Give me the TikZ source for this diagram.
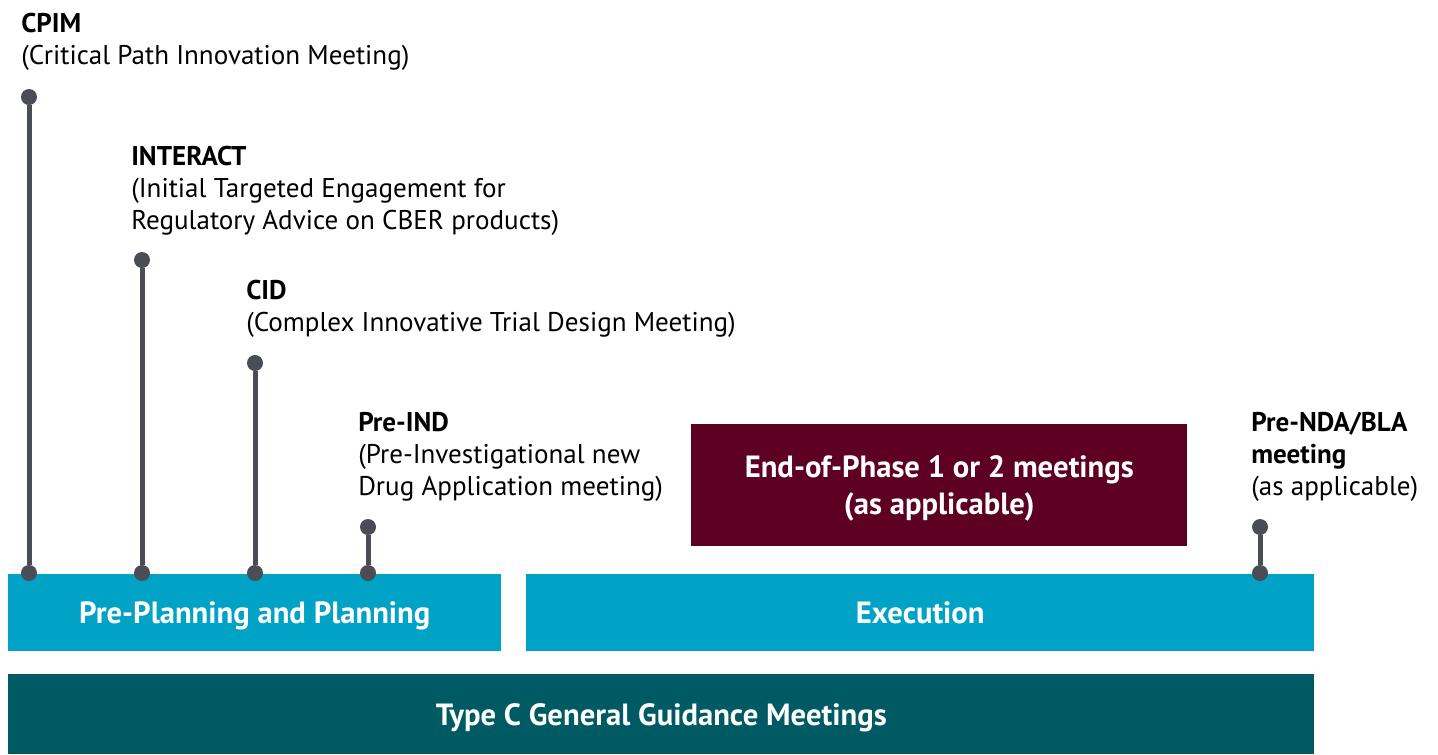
\documentclass[tikz,border=0pt]{standalone}
\usepackage{fontspec}
\setmainfont{PT Sans}
\definecolor{cyanbar}{RGB}{0,163,198}
\definecolor{tealbar}{RGB}{0,90,100}
\definecolor{maroonbox}{RGB}{94,0,34}
\definecolor{pingrey}{RGB}{74,77,85}
\tikzset{
  pindot/.style={circle,fill=pingrey,inner sep=0pt,minimum size=12pt},
  pinline/.style={draw=pingrey,line width=3.75pt},
  label/.style={anchor=north west,inner sep=0pt,align=left,font=\fontsize{20.3}{24}\selectfont},
  phase/.style={anchor=north west,inner sep=0pt,text=white,text height=1.65em,text depth=0pt,font=\fontsize{23}{28}\selectfont\bfseries}
}
\begin{document}
\begin{tikzpicture}[x=0.75pt,y=0.75pt,yscale=-1,xscale=1]
\useasboundingbox (0,0) rectangle (1438,754);
%Bars
\node [phase,fill=cyanbar,minimum width=369.75pt,minimum height=57.75pt] (planning) at (8,574) {Pre-Planning and Planning};
\node [phase,fill=cyanbar,minimum width=591pt,minimum height=57.75pt] (execution) at (526,574) {Execution};
\node [phase,fill=tealbar,minimum width=979.5pt,minimum height=60pt] (typec) at (8,674) {Type C General Guidance Meetings};
\node [phase,fill=maroonbox,minimum width=372pt,minimum height=91.5pt,align=center,text height=,text depth=-2pt] (eop) at (691,424) {End-of-Phase 1 or 2 meetings\\(as applicable)};

%Pins
\node [pindot] (cpimtop) at (29,97) {};
\node [pindot] (cpimbot) at (29,573) {};
\node [pindot] (interacttop) at (142,260) {};
\node [pindot] (interactbot) at (142,573) {};
\node [pindot] (cidtop) at (255,363) {};
\node [pindot] (cidbot) at (255,573) {};
\node [pindot] (preindtop) at (368,527) {};
\node [pindot] (preindbot) at (368,573) {};
\node [pindot] (prendatop) at (1260,527) {};
\node [pindot] (prendabot) at (1260,573) {};
\draw [pinline] (cpimtop) -- (cpimbot);
\draw [pinline] (interacttop) -- (interactbot);
\draw [pinline] (cidtop) -- (cidbot);
\draw [pinline] (preindtop) -- (preindbot);
\draw [pinline] (prendatop) -- (prendabot);

% Text Node
\node [label] (cpim) at (21,13) {\textbf{CPIM}\\(Critical Path Innovation Meeting)};
% Text Node
\node [label] (interact) at (131,146) {\textbf{INTERACT}\\(Initial Targeted Engagement for\\Regulatory Advice on CBER products)};
% Text Node
\node [label] (cid) at (246,280) {\textbf{CID}\\(Complex Innovative Trial Design Meeting)};
% Text Node
\node [label] (preind) at (358,412) {\textbf{Pre-IND}\\(Pre-Investigational new\\Drug Application meeting)};
% Text Node
\node [label] (prenda) at (1251,412) {\textbf{Pre-NDA/BLA}\\\textbf{meeting}\\(as applicable)};
\end{tikzpicture}
\end{document}
